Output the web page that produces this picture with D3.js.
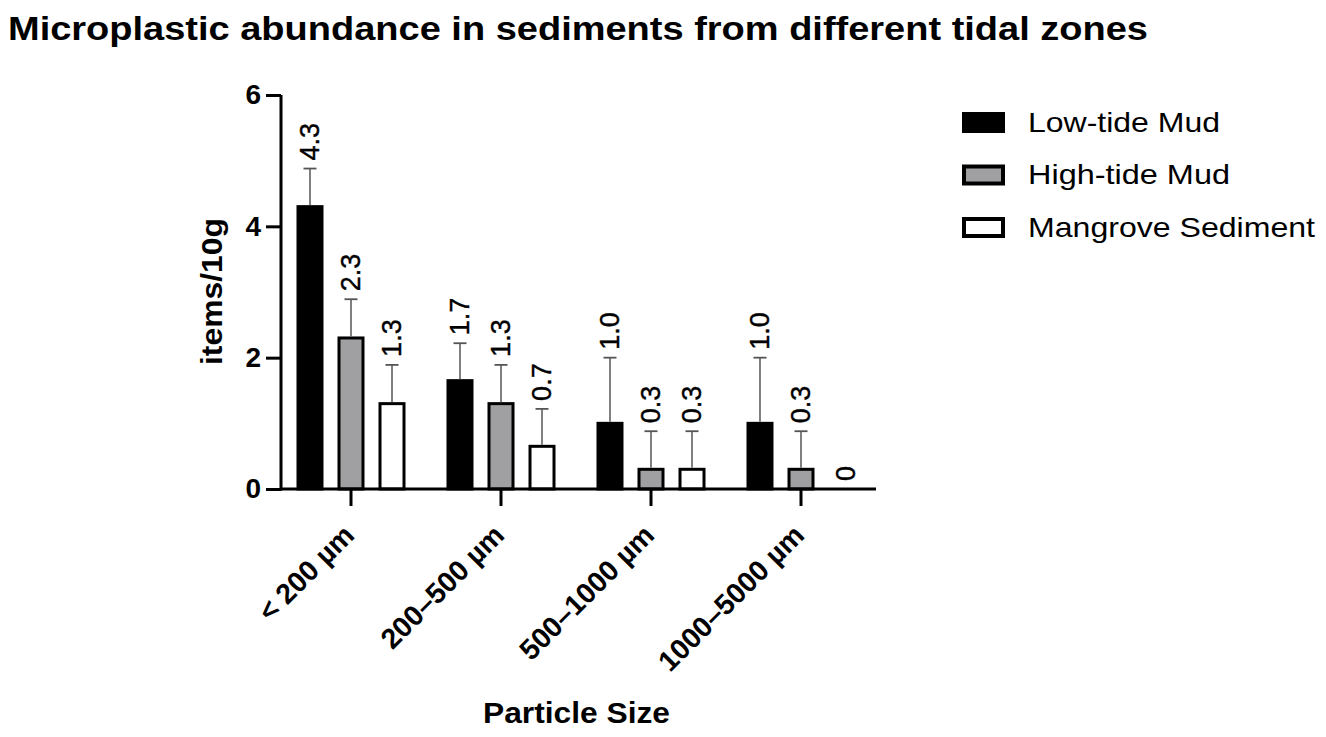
<!DOCTYPE html>
<html>
<head>
<meta charset="utf-8">
<script src="https://cdn.jsdelivr.net/npm/d3@7"></script>
<style>
  html, body { margin: 0; padding: 0; background: #fff; }
  svg { display: block; font-family: "Liberation Sans", Arial, sans-serif; }
</style>
</head>
<body>
<svg id="chart" width="1326" height="737"></svg>
<script>
// ---- data ----
const categories = ["< 200 µm", "200–500 µm", "500–1000 µm", "1000–5000 µm"];
const seriesNames = ["Low-tide Mud", "High-tide Mud", "Mangrove Sediment"];
const lowTide = [4.3, 1.65, 1.0, 1.0];
const highTide = [2.3, 1.3, 0.3, 0.3];
const mangrove = [1.3, 0.65, 0.3, 0];
const lowTideSD = [0.58, 0.57, 1.0, 1.0];
const highTideSD = [0.59, 0.59, 0.58, 0.58];
const mangroveSD = [0.59, 0.57, 0.58, 0];
const lowTideLabels = ["4.3", "1.7", "1.0", "1.0"];
const highTideLabels = ["2.3", "1.3", "0.3", "0.3"];
const mangroveLabels = ["1.3", "0.7", "0.3", "0"];
const yTicks = [0, 2, 4, 6];
const seriesFills = ["#000000", "#a0a0a2", "#ffffff"];

const values = [lowTide, highTide, mangrove];
const sds = [lowTideSD, highTideSD, mangroveSD];
const labels = [lowTideLabels, highTideLabels, mangroveLabels];

const svg = d3.select("#chart");

// ---- scales ----
const y = d3.scaleLinear().domain([0, 6]).range([489, 95]);
const x0 = d3.scaleBand().domain(categories).range([276, 876]).padding(0);
const x1 = d3.scaleBand().domain(seriesNames).range([0, x0.bandwidth()])
  .paddingInner(0).paddingOuter(0.329);

// ---- title ----
svg.append("text")
  .attr("x", 8).attr("y", 40)
  .attr("font-size", 34).attr("font-weight", "bold")
  .attr("textLength", 1140).attr("lengthAdjust", "spacingAndGlyphs")
  .text("Microplastic abundance in sediments from different tidal zones");

// ---- bars ----
const rows = [];
categories.forEach((c, ci) => {
  seriesNames.forEach((s, si) => {
    rows.push({cat: c, ser: s, si, v: values[si][ci], sd: sds[si][ci], lab: labels[si][ci]});
  });
});

const barW = 24;
const g = svg.append("g");
rows.forEach(d => {
  const cx = x0(d.cat) + x1(d.ser) + x1.bandwidth() / 2;
  if (d.v > 0) {
    g.append("rect")
      .attr("x", cx - barW / 2)
      .attr("y", y(d.v))
      .attr("width", barW)
      .attr("height", y(0) - y(d.v))
      .attr("fill", seriesFills[d.si])
      .attr("stroke", "#000")
      .attr("stroke-width", 3);
  }
  if (d.sd > 0) {
    const top = y(d.v + d.sd);
    g.append("line")
      .attr("x1", cx).attr("x2", cx)
      .attr("y1", y(d.v) - 1.5).attr("y2", top)
      .attr("stroke", "#555").attr("stroke-width", 1.5);
    g.append("line")
      .attr("x1", cx - 6.5).attr("x2", cx + 6.5)
      .attr("y1", top).attr("y2", top)
      .attr("stroke", "#555").attr("stroke-width", 1.8);
  }
  const ly = y(d.v + d.sd) - 8;
  g.append("text")
    .attr("transform", `translate(${cx + (d.v === 0 ? 4 : 0)},${ly}) rotate(-90)`)
    .attr("text-anchor", "start")
    .attr("dominant-baseline", "central")
    .attr("font-size", 27)
    .attr("stroke", "#000").attr("stroke-width", 0.4)
    .text(d.lab);
});

// ---- axes ----
const yAxis = svg.append("g").attr("transform", "translate(281,0)")
  .call(d3.axisLeft(y).tickValues(yTicks).tickSize(15).tickPadding(5).tickFormat(d3.format("d")));
yAxis.select(".domain").attr("stroke-width", 3).attr("d", `M0,${y(6)}V${y(0) + 1.5}`);
yAxis.selectAll(".tick line").attr("stroke-width", 3);
yAxis.selectAll(".tick text").attr("font-size", 28).attr("font-weight", "bold")
  .attr("font-family", "Liberation Sans, Arial, sans-serif").attr("fill", "#000");

const xAxis = svg.append("g").attr("transform", `translate(0,${y(0)})`)
  .call(d3.axisBottom(x0).tickSize(17).tickPadding(0));
xAxis.select(".domain").attr("stroke-width", 3).attr("d", "M280,0H876");
xAxis.selectAll(".tick line").attr("stroke-width", 3);
xAxis.selectAll(".tick text")
  .attr("font-size", 28.5).attr("font-weight", "bold")
  .attr("font-family", "Liberation Sans, Arial, sans-serif").attr("fill", "#000")
  .attr("text-anchor", "end")
  .attr("dy", null).attr("y", null)
  .attr("transform", "translate(5,48) rotate(-45)");

// ---- axis titles ----
svg.append("text")
  .attr("transform", "translate(211,291.5) rotate(-90)")
  .attr("text-anchor", "middle").attr("dominant-baseline", "central")
  .attr("font-size", 30).attr("font-weight", "bold")
  .attr("textLength", 147).attr("lengthAdjust", "spacingAndGlyphs")
  .text("items/10g");

svg.append("text")
  .attr("x", 576.5).attr("y", 723)
  .attr("text-anchor", "middle")
  .attr("font-size", 29).attr("font-weight", "bold")
  .attr("textLength", 187).attr("lengthAdjust", "spacingAndGlyphs")
  .text("Particle Size");

// ---- legend ----
const legendY = d3.scalePoint().domain(seriesNames).range([122, 227]);
const legendLen = [192, 202, 287];
const lg = svg.append("g");
seriesNames.forEach((s, i) => {
  const cy = legendY(s);
  lg.append("rect")
    .attr("x", 964).attr("y", cy - 8)
    .attr("width", 39).attr("height", 17)
    .attr("fill", seriesFills[i])
    .attr("stroke", "#000").attr("stroke-width", 4);
  lg.append("text")
    .attr("x", 1028).attr("y", cy)
    .attr("dominant-baseline", "central")
    .attr("font-size", 28)
    .attr("textLength", legendLen[i]).attr("lengthAdjust", "spacingAndGlyphs")
    .text(s);
});
</script>
</body>
</html>
